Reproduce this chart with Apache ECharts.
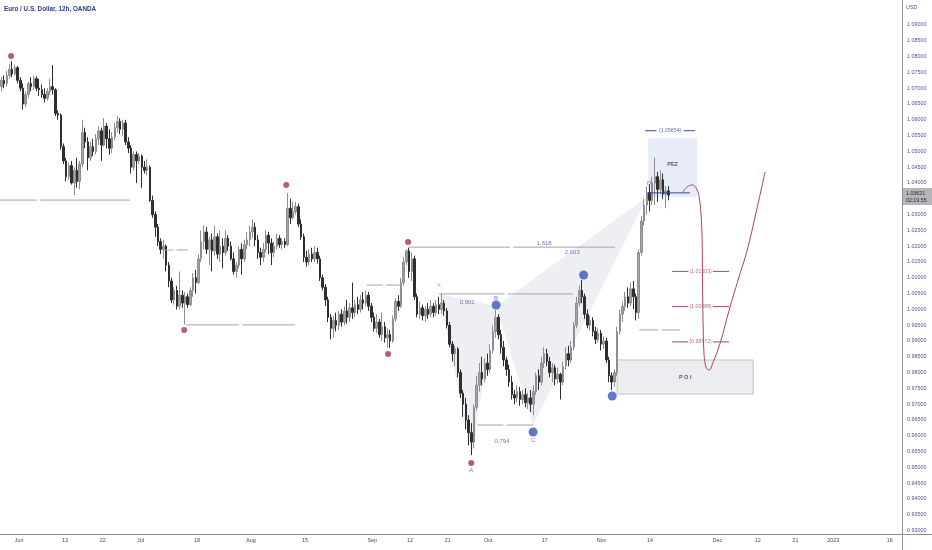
<!DOCTYPE html>
<html><head><meta charset="utf-8">
<script src="https://cdn.jsdelivr.net/npm/echarts/dist/echarts.min.js"></script>
<style>html,body{margin:0;padding:0;background:#fff}#c{width:932px;height:550px}</style>
</head><body><div id="c"></div>
<script>
// Candles [open, close, low, high], 12h bars
const junBars = [
[1.0705,1.0725,1.0690,1.0735],[1.0725,1.0715,1.0700,1.0740],[1.0715,1.0740,1.0705,1.0755],[1.0740,1.0760,1.0730,1.0775],
[1.0760,1.0745,1.0735,1.0785],[1.0745,1.0765,1.0740,1.0775],[1.0765,1.0725,1.0715,1.0770],[1.0725,1.0700,1.0690,1.0735],
[1.0700,1.0650,1.0632,1.0715],[1.0650,1.0680,1.0640,1.0690],[1.0680,1.0715,1.0670,1.0720],[1.0715,1.0705,1.0690,1.0735],
[1.0705,1.0730,1.0695,1.0740],[1.0730,1.0700,1.0690,1.0738],[1.0700,1.0695,1.0675,1.0730],[1.0695,1.0680,1.0670,1.0712],
[1.0680,1.0668,1.0655,1.0700],[1.0668,1.0690,1.0660,1.0700],[1.0690,1.0705,1.0678,1.0730],[1.0705,1.0695,1.0680,1.0773],
[1.0695,1.0620,1.0612,1.0700],[1.0620,1.0615,1.0600,1.0630],[1.0615,1.0515,1.0505,1.0620],[1.0515,1.0470,1.0460,1.0525],
[1.0470,1.0420,1.0405,1.0480],[1.0420,1.0455,1.0410,1.0465],[1.0455,1.0400,1.0395,1.0470],[1.0400,1.0440,1.0362,1.0450],
[1.0440,1.0405,1.0385,1.0480],[1.0405,1.0460,1.0380,1.0470],[1.0460,1.0560,1.0450,1.0600],[1.0560,1.0530,1.0510,1.0575],
[1.0530,1.0480,1.0440,1.0545],[1.0480,1.0515,1.0470,1.0530],[1.0515,1.0500,1.0485,1.0540],[1.0500,1.0540,1.0490,1.0555],
[1.0540,1.0565,1.0520,1.0580],[1.0565,1.0520,1.0470,1.0575],[1.0520,1.0580,1.0515,1.0605],[1.0580,1.0540,1.0510,1.0590],
[1.0540,1.0510,1.0490,1.0570],[1.0510,1.0545,1.0495,1.0560],[1.0545,1.0575,1.0535,1.0590],[1.0575,1.0595,1.0560,1.0612],
[1.0595,1.0570,1.0555,1.0605],[1.0570,1.0590,1.0550,1.0600],[1.0590,1.0530,1.0520,1.0600],[1.0530,1.0510,1.0495,1.0545],
[1.0510,1.0450,1.0430,1.0520],[1.0450,1.0490,1.0440,1.0500],[1.0490,1.0470,1.0400,1.0500]
];
const julBars = [
[1.0470,1.0485,1.0460,1.0495],[1.0485,1.0450,1.0385,1.0490],[1.0450,1.0440,1.0430,1.0470],[1.0440,1.0450,1.0425,1.0475],
[1.0450,1.0345,1.0340,1.0455],[1.0345,1.0300,1.0290,1.0360],[1.0300,1.0260,1.0230,1.0310],[1.0260,1.0215,1.0200,1.0270],
[1.0215,1.0190,1.0175,1.0225],[1.0190,1.0200,1.0160,1.0220],[1.0200,1.0140,1.0120,1.0205],[1.0140,1.0090,1.0070,1.0150],
[1.0090,1.0030,1.0020,1.0100],[1.0030,1.0060,1.0015,1.0070],[1.0060,1.0010,1.0000,1.0075],[1.0010,1.0045,1.0000,1.0120],
[1.0045,1.0020,1.0005,1.0060],[1.0020,1.0040,0.9952,1.0055],[1.0040,1.0015,1.0005,1.0050],[1.0015,1.0060,1.0010,1.0070],
[1.0060,1.0100,1.0040,1.0115],[1.0100,1.0085,1.0050,1.0125],[1.0085,1.0160,1.0080,1.0175],[1.0160,1.0215,1.0150,1.0250],
[1.0215,1.0245,1.0190,1.0265],[1.0245,1.0190,1.0175,1.0260],[1.0190,1.0220,1.0140,1.0230],[1.0220,1.0185,1.0120,1.0240],
[1.0185,1.0230,1.0170,1.0265],[1.0230,1.0175,1.0160,1.0240],[1.0175,1.0200,1.0150,1.0250],[1.0200,1.0180,1.0130,1.0225],
[1.0180,1.0225,1.0170,1.0250],[1.0225,1.0200,1.0185,1.0235],[1.0200,1.0160,1.0155,1.0215],[1.0160,1.0120,1.0110,1.0180],
[1.0120,1.0140,1.0100,1.0150],[1.0140,1.0190,1.0130,1.0200],[1.0190,1.0160,1.0110,1.0210],[1.0160,1.0205,1.0150,1.0220],
[1.0205,1.0220,1.0190,1.0245]
];
const augBars = [
[1.0220,1.0245,1.0200,1.0265],[1.0245,1.0260,1.0225,1.0285],[1.0260,1.0220,1.0200,1.0275],[1.0220,1.0180,1.0160,1.0235],
[1.0180,1.0165,1.0140,1.0195],[1.0165,1.0190,1.0150,1.0210],[1.0190,1.0235,1.0180,1.0250],[1.0235,1.0210,1.0175,1.0245],
[1.0210,1.0180,1.0140,1.0225],[1.0180,1.0200,1.0165,1.0215],[1.0200,1.0225,1.0190,1.0240],[1.0225,1.0205,1.0195,1.0235],
[1.0205,1.0215,1.0190,1.0225],[1.0215,1.0205,1.0195,1.0225],[1.0205,1.0320,1.0200,1.0368],[1.0320,1.0290,1.0270,1.0350],
[1.0290,1.0310,1.0285,1.0340],[1.0310,1.0325,1.0300,1.0340],[1.0325,1.0270,1.0260,1.0335],[1.0270,1.0230,1.0220,1.0285],
[1.0230,1.0165,1.0150,1.0240],[1.0165,1.0150,1.0135,1.0185],[1.0150,1.0175,1.0140,1.0190],[1.0175,1.0160,1.0150,1.0195],
[1.0160,1.0180,1.0150,1.0200],[1.0180,1.0160,1.0145,1.0195],[1.0160,1.0100,1.0090,1.0170],[1.0100,1.0070,1.0060,1.0110],
[1.0070,1.0030,1.0010,1.0080],[1.0030,0.9975,0.9960,1.0040],[0.9975,0.9940,0.9905,0.9985],[0.9940,0.9965,0.9910,0.9980],
[0.9965,0.9950,0.9930,0.9990],[0.9950,0.9985,0.9935,0.9995],[0.9985,0.9960,0.9945,1.0000],[0.9960,0.9995,0.9950,1.0010],
[0.9995,0.9975,0.9955,1.0030],[0.9975,1.0005,0.9960,1.0020],[1.0005,0.9990,0.9970,1.0085],[0.9990,1.0015,0.9975,1.0030],
[1.0015,1.0000,0.9985,1.0040],[1.0000,1.0030,0.9990,1.0045],[1.0030,1.0020,1.0000,1.0055],[1.0020,1.0045,1.0010,1.0060],
[1.0045,1.0010,0.9995,1.0055]
];
const sepBars = [
[1.0010,0.9975,0.9960,1.0020],[0.9975,0.9940,0.9930,0.9990],[0.9940,0.9960,0.9925,0.9985],[0.9960,0.9920,0.9910,0.9970],
[0.9920,0.9945,0.9900,0.9990],[0.9945,0.9910,0.9895,0.9960],[0.9910,0.9920,0.9880,0.9940],[0.9920,0.9900,0.9878,0.9935],
[0.9900,0.9970,0.9895,0.9980],[0.9970,1.0025,0.9960,1.0035],[1.0025,1.0010,0.9995,1.0045],[1.0010,1.0085,1.0005,1.0100],
[1.0085,1.0150,1.0075,1.0165],[1.0150,1.0185,1.0140,1.0190],[1.0185,1.0120,1.0100,1.0195],[1.0120,1.0160,1.0090,1.0180],
[1.0160,1.0040,1.0030,1.0170],[1.0040,0.9985,0.9975,1.0050],[0.9985,1.0005,0.9970,1.0025],[1.0005,0.9980,0.9965,1.0015],
[0.9980,1.0000,0.9960,1.0010],[1.0000,0.9985,0.9970,1.0020],[0.9985,1.0010,0.9975,1.0030],[1.0010,0.9990,0.9975,1.0020],
[0.9990,1.0015,0.9980,1.0030],[1.0015,1.0000,0.9985,1.0040],[1.0000,1.0020,0.9985,1.0050],[1.0020,0.9995,0.9980,1.0030],
[0.9995,0.9950,0.9940,1.0005],[0.9950,0.9890,0.9880,0.9960],[0.9890,0.9860,0.9835,0.9900],[0.9860,0.9875,0.9820,0.9885],
[0.9875,0.9800,0.9785,0.9880],[0.9800,0.9735,0.9720,0.9810],[0.9735,0.9700,0.9660,0.9745],[0.9700,0.9650,0.9620,0.9720],
[0.9650,0.9610,0.9570,0.9665],[0.9610,0.9580,0.9539,0.9640],[0.9580,0.9690,0.9560,0.9700],[0.9690,0.9760,0.9680,0.9790],
[0.9760,0.9800,0.9740,0.9830],[0.9800,0.9780,0.9760,0.9850],[0.9780,0.9830,0.9770,0.9845]
];
const octBars = [
[0.9830,0.9810,0.9790,0.9860],[0.9810,0.9870,0.9800,0.9890],[0.9870,0.9930,0.9860,0.9950],[0.9930,0.9975,0.9910,0.9998],
[0.9975,0.9920,0.9905,0.9985],[0.9920,0.9880,0.9860,0.9935],[0.9880,0.9840,0.9820,0.9900],[0.9840,0.9810,0.9790,0.9850],
[0.9810,0.9770,0.9755,0.9825],[0.9770,0.9730,0.9715,0.9790],[0.9730,0.9720,0.9700,0.9745],[0.9720,0.9740,0.9705,0.9760],
[0.9740,0.9715,0.9695,0.9755],[0.9715,0.9730,0.9700,0.9745],[0.9730,0.9705,0.9690,0.9750],[0.9705,0.9720,0.9685,0.9735],
[0.9720,0.9700,0.9675,0.9745],[0.9700,0.9740,0.9665,0.9760],[0.9740,0.9790,0.9730,0.9800],[0.9790,0.9770,0.9745,0.9810],
[0.9770,0.9830,0.9760,0.9850],[0.9830,0.9860,0.9815,0.9880],[0.9860,0.9835,0.9820,0.9875],[0.9835,0.9800,0.9785,0.9850],
[0.9800,0.9815,0.9770,0.9830],[0.9815,0.9780,0.9760,0.9825],[0.9780,0.9795,0.9765,0.9815],[0.9795,0.9770,0.9715,0.9800],
[0.9770,0.9820,0.9760,0.9835],[0.9820,0.9860,0.9810,0.9880],[0.9860,0.9840,0.9820,0.9885],[0.9840,0.9880,0.9830,0.9900],
[0.9880,0.9950,0.9870,0.9960],[0.9950,1.0020,0.9940,1.0040],[1.0020,1.0060,1.0010,1.0075],[1.0060,1.0040,1.0020,1.0093],
[1.0040,0.9985,0.9970,1.0050],[0.9985,0.9950,0.9940,1.0000],[0.9950,0.9965,0.9935,0.9980],[0.9965,0.9930,0.9915,0.9975],
[0.9930,0.9905,0.9890,0.9945],[0.9905,0.9925,0.9895,0.9940]
];
const novBars = [
[0.9925,0.9890,0.9870,0.9935],[0.9890,0.9900,0.9875,0.9915],[0.9900,0.9840,0.9830,0.9910],[0.9840,0.9790,0.9770,0.9850],
[0.9790,0.9770,0.9745,0.9800],[0.9770,0.9800,0.9755,0.9810],[0.9800,0.9930,0.9790,0.9945],[0.9930,0.9985,0.9920,1.0000],
[0.9985,1.0010,0.9960,1.0025],[1.0010,1.0040,0.9995,1.0055],[1.0040,1.0020,1.0005,1.0070],[1.0020,1.0065,1.0010,1.0085],
[1.0065,1.0040,1.0000,1.0090],[1.0040,0.9990,0.9965,1.0050],[0.9990,1.0180,0.9970,1.0190],[1.0180,1.0280,1.0170,1.0295],
[1.0280,1.0330,1.0265,1.0350],[1.0330,1.0370,1.0300,1.0390],[1.0370,1.0345,1.0310,1.0395],[1.0345,1.0400,1.0330,1.0420],
[1.0400,1.0420,1.0330,1.0480],[1.0420,1.0380,1.0340,1.0435],[1.0380,1.0410,1.0365,1.0440],[1.0410,1.0365,1.0350,1.0430],
[1.0365,1.0375,1.0320,1.0390],[1.0375,1.03621,1.0345,1.0390]
];

// x axis tick labels (bar index -> text)
const tickIdx  = [6, 23, 37, 51, 72, 92, 112, 137, 151, 165, 180, 201, 222, 240, 265, 280, 294, 308, 329];
const tickText = ['Jun','13','22','Jul','18','Aug','15','Sep','12','21','Oct','17','Nov','14','Dec','12','21','2023','16'];
const totalSlots = 334;

// pivot dots [barIndex, price]
const redDots  = [[3.6,1.0802],[67.7,0.9935],[105.5,1.0394],[143.2,0.9859],[150.6,1.0213],[174,0.9514]];
const blueDots = [[183.2,1.0014],[196.9,0.9612],[215.6,1.0109],[226.2,0.9726]];

// harmonic pattern X A B C D
const patX = [162.1,1.0049], patA = [174,0.9539], patB = [183.2,1.0011], patC = [196.9,0.9634], patD = [239.1,1.0356];

// horizontal level segments [fromIndex, toIndex, price]
const levels = [[-20,47.6,1.0346],[59.5,69,1.0188],[68.4,108.8,0.9951],[135.4,148.4,1.0077],
                [150.6,227.3,1.0197],[162.1,211.7,1.0049],[176.2,196.9,0.9634],[236.2,251.4,0.9935]];

// fib projection levels
const fibLevels = [1.01203, 1.00088, 0.98972];
const fibRange = [248.4, 269.5];
const pezLevel = 1.05654;
const pezRange = [238.4, 256.9];
const dLevel = 1.03688;
const dRange = [239.5, 255];

// zones [x0, x1, priceLow, priceHigh]
const pezBox = [239.5, 257.6, 1.0356, 1.0542];
const poiBox = [228, 278.4, 0.9732, 0.9840];

// projected path [barIndex, price]
const projPath = [[252.1,1.0368],[253.9,1.0387],[255.8,1.0394],[257.3,1.0384],[258.4,1.0356],[259.1,1.0299],
  [259.5,1.0220],[259.6,1.0125],[259.7,1.0030],[259.9,0.9935],[260.2,0.9856],[261.0,0.9815],[262.1,0.9808],
  [263.6,0.9834],[266.2,0.9894],[269.5,0.9998],[272.8,1.0093],[276.2,1.0188],[279.5,1.0308],[282.8,1.0435]];

// text notes
const noteText = ['1.618','2.003','X','0.901','0.794','A','B','C','D'];
const notePos  = [[201,1.0210],[211.4,1.0182],[162.1,1.0077],[172.5,1.0023],[185.4,0.9584],[174,0.9490],[183.2,1.0035],[196.9,0.9585],[239.9,1.0400]];

const bars = [].concat(junBars, julBars, augBars, sepBars, octBars, novBars);
const cats = Array.from({length: totalSlots}, (_, i) => i);
const tickMap = {}; tickIdx.forEach((k, j) => tickMap[k] = tickText[j]);

const chart = echarts.init(document.getElementById('c'), null, {renderer: 'canvas'});

function poly(points, style, z) {
  return {type:'custom', xAxisIndex:1, yAxisIndex:0, z, silent:true, animation:false, clip:false,
    data:[points[0]], encode:{x:0, y:1},
    renderItem:(p, api) => ({type:'polygon', shape:{points: points.map(q => api.coord(q))}, style})};
}
function seg(a, b, price, color, z) {
  return {type:'line', xAxisIndex:1, yAxisIndex:0, z, silent:true, animation:false, symbol:'none',
    data:[[a, price],[b, price]], lineStyle:{color, width:1}};
}
function box(b) { return [[b[0],b[2]],[b[1],b[2]],[b[1],b[3]],[b[0],b[3]]]; }

const series = [];
series.push(poly([patX, patA, patB], {fill:'rgba(200,204,214,0.32)'}, 1));
series.push(poly([patB, patC, patD], {fill:'rgba(200,204,214,0.32)'}, 1));
series.push(poly(box(pezBox), {fill:'rgba(205,212,240,0.45)'}, 1));
series.push(poly(box(poiBox), {fill:'#ecedf0', stroke:'#c4c6cc', lineWidth:1}, 1));
series.push({type:'candlestick', xAxisIndex:0, yAxisIndex:0, z:3, data:bars, barWidth:2, animation:false,
  itemStyle:{color:'#a3a3a3', color0:'#2e2e2e', borderColor:'#8e8e8e', borderColor0:'#2e2e2e', borderWidth:1}});
const mids = [];
levels.forEach(l => { series.push(seg(l[0], l[1], l[2], '#a3a5ab', 4)); mids.push([(l[0]+l[1])/2, l[2]]); });
series.push({type:'scatter', xAxisIndex:1, yAxisIndex:0, z:5, silent:true, animation:false, data:mids,
  symbol:'emptyCircle', symbolSize:2, itemStyle:{color:'#fff', borderColor:'#c4c6cc', borderWidth:1}});
fibLevels.forEach(v => {
  series.push(seg(fibRange[0], fibRange[0]+6, v, '#a8475c', 4));
  series.push(seg(fibRange[1]-6, fibRange[1], v, '#a8475c', 4));
});
series.push(seg(pezRange[0], pezRange[0]+4.2, pezLevel, '#3e4a8f', 4));
series.push(seg(pezRange[1]-4.2, pezRange[1], pezLevel, '#3e4a8f', 4));
series.push(seg(dRange[0], dRange[1], dLevel, '#3e4a8f', 4));
series.push({type:'scatter', xAxisIndex:1, yAxisIndex:0, z:6, silent:true, animation:false,
  data: fibLevels.map(v => ({value:[(fibRange[0]+fibRange[1])/2, v], label:{formatter:'(' + v.toFixed(5) + ')'}}))
    .concat([{value:[(pezRange[0]+pezRange[1])/2, pezLevel], label:{formatter:'(' + pezLevel.toFixed(5) + ')', color:'#3e4a8f'}}]),
  symbolSize:0, label:{show:true, position:'inside', color:'#a8475c', fontSize:5.2, fontFamily:'Liberation Sans'}});
series.push({type:'line', xAxisIndex:1, yAxisIndex:0, z:4, silent:true, animation:false, symbol:'none',
  smooth:0.35, data:projPath, lineStyle:{color:'#a8475c', width:1}});
series.push({type:'scatter', xAxisIndex:1, yAxisIndex:0, z:7, silent:true, animation:false, data:redDots,
  symbolSize:6, itemStyle:{color:'#a3364c'}});
series.push({type:'scatter', xAxisIndex:1, yAxisIndex:0, z:7, silent:true, animation:false, data:blueDots,
  symbolSize:9, itemStyle:{color:'#3a58b5'}});
series.push({type:'scatter', xAxisIndex:1, yAxisIndex:0, z:8, silent:true, animation:false, symbolSize:0,
  data: noteText.map((t, j) => ({value:notePos[j], label:{formatter:t, color: t === 'X' ? '#8d8f96' : '#4c5aa8'}})),
  label:{show:true, position:'inside', fontSize:6, fontFamily:'Liberation Sans'}});
series.push({type:'scatter', xAxisIndex:1, yAxisIndex:0, z:8, silent:true, animation:false, symbolSize:0,
  data:[{value:[(pezBox[0]+pezBox[1])/2, 1.0460], label:{formatter:'PEZ'}},
        {value:[(poiBox[0]+poiBox[1])/2, (poiBox[2]+poiBox[3])/2], label:{formatter:'P O I'}}],
  label:{show:true, position:'inside', fontSize:5.5, fontWeight:'bold', color:'#333', fontFamily:'Liberation Sans'}});

chart.setOption({
  animation:false,
  backgroundColor:'#ffffff',
  grid:[{left:0, right:30, top:0, bottom:3.6}, {left:0, right:30, top:533, height:1}],
  xAxis:[
    {type:'category', data:cats, gridIndex:0, show:false, boundaryGap:true},
    {type:'value', gridIndex:0, show:false, min:-0.5, max:totalSlots-0.5},
    {type:'category', data:cats, gridIndex:1, boundaryGap:true, axisLine:{show:false}, axisTick:{show:false},
      axisLabel:{interval:0, margin:4, fontSize:5.4, color:'#4a4a4a', fontFamily:'Liberation Sans',
        formatter:(v, i) => tickMap[i] || ''}}
  ],
  yAxis:[
    {type:'value', gridIndex:0, position:'right', min:0.925, max:1.097911, interval:0.005, scale:true,
      splitLine:{show:false}, axisLine:{show:false}, axisTick:{show:false},
      axisLabel:{margin:5, fontSize:5.4, color:'#4c5590', fontFamily:'Liberation Sans',
        formatter:v => (v < 0.9275 || v > 1.0925) ? '' : v.toFixed(5)}},
    {type:'value', gridIndex:1, show:false}
  ],
  series
});

const lastClose = bars[bars.length-1][1];
const py = chart.convertToPixel({yAxisIndex:0}, lastClose);
chart.setOption({graphic:[
  {type:'line', shape:{x1:902.5, y1:0, x2:902.5, y2:550}, style:{stroke:'#8f9198', lineWidth:1}, z:10},
  {type:'line', shape:{x1:0, y1:534.5, x2:932, y2:534.5}, style:{stroke:'#8f9198', lineWidth:1}, z:10},
  {type:'text', left:906, top:5, style:{text:'USD', fontSize:5.4, fill:'#4c5590', fontFamily:'Liberation Sans'}, z:10},
  {type:'text', left:4, top:6, style:{text:'Euro / U.S. Dollar, 12h, OANDA', fontSize:6.3, fontWeight:'bold', fill:'#2f3a86', fontFamily:'Liberation Sans'}, z:10},
  {type:'rect', shape:{x:903, y:py-7, width:29, height:17}, style:{fill:'#b4b6bb'}, z:10},
  {type:'text', x:906, y:py-5, style:{text:lastClose.toFixed(5) + '\n02:19:55', fontSize:5.3, lineHeight:7, fill:'#2a2a2a', fontFamily:'Liberation Sans'}, z:11}
]});
</script></body></html>
